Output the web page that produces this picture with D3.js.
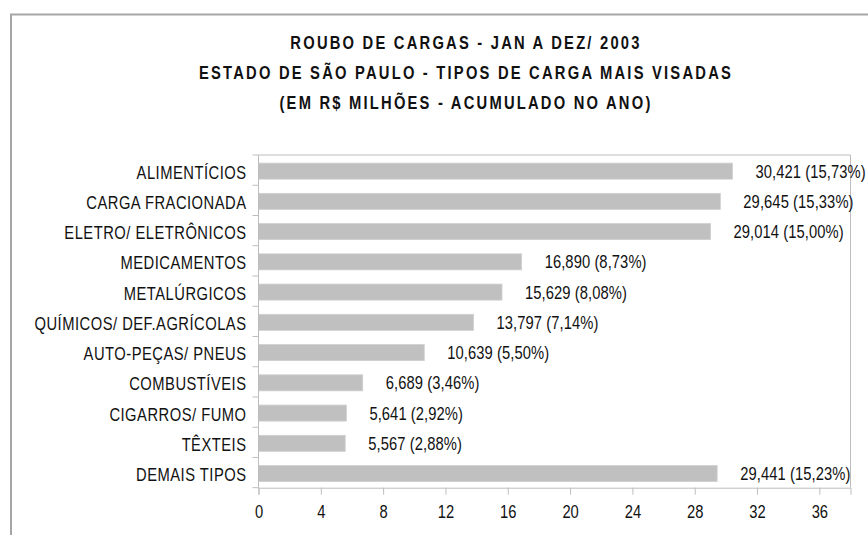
<!DOCTYPE html>
<html>
<head>
<meta charset="utf-8">
<script src="https://cdn.jsdelivr.net/npm/d3@7"></script>
<style>
  html, body { margin: 0; padding: 0; background: #ffffff; }
  svg { display: block; }
  text { font-family: "Liberation Sans", Arial, sans-serif; fill: #111; }
</style>
</head>
<body>
<svg id="chart" width="868" height="535"></svg>
<script>
// ---- data ----
const titleLines = [
  "ROUBO DE CARGAS - JAN A DEZ/ 2003",
  "ESTADO DE SÃO PAULO - TIPOS DE CARGA MAIS VISADAS",
  "(EM R$ MILHÕES - ACUMULADO NO ANO)"
];
const categories = [
  "ALIMENTÍCIOS", "CARGA FRACIONADA", "ELETRO/ ELETRÔNICOS", "MEDICAMENTOS",
  "METALÚRGICOS", "QUÍMICOS/ DEF.AGRÍCOLAS", "AUTO-PEÇAS/ PNEUS", "COMBUSTÍVEIS",
  "CIGARROS/ FUMO", "TÊXTEIS", "DEMAIS TIPOS"
];
const values = [30.421, 29.645, 29.014, 16.890, 15.629, 13.797, 10.639, 6.689, 5.641, 5.567, 29.441];
const percents = [15.73, 15.33, 15.00, 8.73, 8.08, 7.14, 5.50, 3.46, 2.92, 2.88, 15.23];
const xTicks = [0, 4, 8, 12, 16, 20, 24, 28, 32, 36];
const xMax = 38;

// ---- layout ----
const svg = d3.select("#chart");
const plot = { left: 258.5, right: 850.5, top: 155, bottom: 487.7 };
const SX = 0.82; // horizontal condensation (narrow font look)
const fmt = v => v.toFixed(3).replace(".", ",");
const fmtP = p => p.toFixed(2).replace(".", ",");

// outer frame (extends beyond the visible area on right and bottom)
svg.append("rect")
  .attr("x", 11).attr("y", 14.5)
  .attr("width", 920).attr("height", 560)
  .attr("fill", "none").attr("stroke", "#a6a6a6").attr("stroke-width", 2);

// title
svg.append("g").selectAll("text").data(titleLines).join("text")
  .attr("transform", (d, i) => `translate(466,${49 + i * 30}) scale(${SX},1)`)
  .attr("text-anchor", "middle")
  .style("font-weight", "bold").style("font-size", "18px").style("letter-spacing", "2.7px")
  .text(d => d);

const x = d3.scaleLinear().domain([0, xMax]).range([plot.left, plot.right]);
const y = d3.scaleBand().domain(categories).range([plot.top, plot.bottom])
  .paddingInner(0.47).paddingOuter(0.235);
const yEdge = d3.scaleBand().domain(categories).range([plot.top, plot.bottom]).padding(0);

const axisColor = "#bdbdbd";

// plot area border: top and right
svg.append("line").attr("x1", plot.left).attr("x2", plot.right)
  .attr("y1", plot.top).attr("y2", plot.top).attr("stroke", axisColor);
svg.append("line").attr("x1", plot.right).attr("x2", plot.right)
  .attr("y1", plot.top).attr("y2", plot.bottom).attr("stroke", axisColor);

// bars
svg.append("g").selectAll("rect").data(values).join("rect")
  .attr("x", x(0))
  .attr("y", (d, i) => y(categories[i]) + 1)
  .attr("width", d => x(d) - x(0))
  .attr("height", y.bandwidth())
  .attr("fill", "#c0c0c0")
  .attr("stroke", "#cfcfcf").attr("stroke-width", 0.8);

// value labels
svg.append("g").selectAll("text").data(values).join("text")
  .attr("transform", (d, i) => `translate(${x(d) + 23},${y(categories[i]) + y.bandwidth() / 2 + 1}) scale(${SX},1)`)
  .attr("dy", "0.36em")
  .style("font-size", "18px").style("letter-spacing", "0.1px")
  .text((d, i) => `${fmt(d)} (${fmtP(percents[i])}%)`);

// y axis labels
svg.append("g").selectAll("text").data(categories).join("text")
  .attr("transform", d => `translate(${plot.left - 12},${y(d) + y.bandwidth() / 2 + 2}) scale(${SX},1)`)
  .attr("text-anchor", "end")
  .attr("dy", "0.36em")
  .style("font-size", "18px").style("letter-spacing", "0.6px")
  .text(d => d);

// y axis line + boundary ticks
const edges = categories.map(c => yEdge(c)).concat([plot.bottom]);
svg.append("line").attr("x1", plot.left).attr("x2", plot.left)
  .attr("y1", plot.top).attr("y2", plot.bottom).attr("stroke", axisColor);
svg.append("g").selectAll("line").data(edges).join("line")
  .attr("x1", plot.left - 6).attr("x2", plot.left)
  .attr("y1", d => d).attr("y2", d => d)
  .attr("stroke", axisColor);

// x axis
const xAxis = svg.append("g").attr("transform", `translate(0,${plot.bottom})`)
  .call(d3.axisBottom(x).tickValues(xTicks).tickSize(7).tickPadding(11).tickFormat(d3.format("d")));
xAxis.select(".domain").attr("stroke", axisColor);
xAxis.selectAll(".tick line").attr("stroke", axisColor);
xAxis.selectAll("text")
  .attr("transform", `scale(${SX},1)`)
  .style("font-size", "18px").style("fill", "#111");
</script>
</body>
</html>
